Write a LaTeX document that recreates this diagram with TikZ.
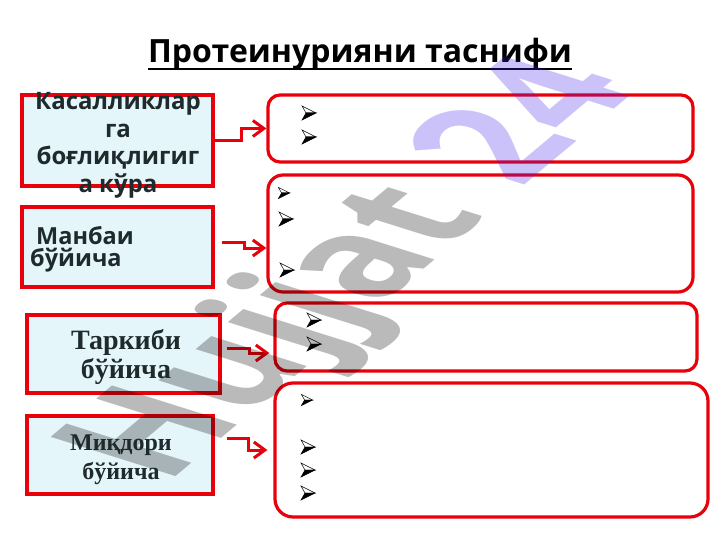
\documentclass[tikz,border=0pt]{standalone}
\usepackage{fontspec}
\setmainfont{Open Sans}
\newfontfamily\serifb{Liberation Serif}
\usetikzlibrary{arrows.meta}
\definecolor{bred}{RGB}{232,0,10}
\definecolor{lcyan}{RGB}{229,246,250}
\definecolor{dtext}{RGB}{30,42,44}
\definecolor{wmv}{RGB}{70,33,237}
\tikzset{
  lbox/.style={draw=bred,line width=3.5pt,fill=lcyan,inner sep=0pt},
  rbox/.style={draw=bred,line width=3.2pt,fill=white,inner sep=0pt},
  conn/.style={draw=bred,line width=3pt,-{Straight Barb[length=11pt,width=16pt]}},
  ltext/.style={text=dtext,inner sep=0pt,font=\bfseries},
  bul/.pic={
    \filldraw[fill=white,draw=black,line width=0.5pt] (-7,-7) -- (7,0) -- (-3,0) -- cycle;
    \filldraw[fill=black,draw=black,line width=0.5pt] (-3,0) -- (7,0) -- (-7,7) -- cycle;
  }
}
\begin{document}
\begin{tikzpicture}[x=1pt,y=-1pt]
\useasboundingbox[fill=white] (0,0) rectangle (720,540);

% title
\node[inner sep=0pt,anchor=base,font=\fontsize{32}{36}\selectfont\bfseries] (T) at (360,63) {Протеинурияни таснифи};
\draw[line width=2pt] ([yshift=-6pt]T.base west) -- ([yshift=-6pt]T.base east);

% left boxes
\node[lbox,minimum width=191pt,minimum height=91pt] (L1) at (117.5,140.5) {};
\node[lbox,minimum width=191pt,minimum height=80pt] (L2) at (117.5,247) {};
\node[lbox,minimum width=193pt,minimum height=78pt] (L3) at (123.5,354) {};
\node[lbox,minimum width=186pt,minimum height=78pt] (L4) at (120,455) {};

% right boxes
\node[rbox,rounded corners=12pt,minimum width=425pt,minimum height=67pt] (R1) at (480.5,128.5) {};
\node[rbox,rounded corners=15pt,minimum width=425pt,minimum height=117pt] (R2) at (480.5,233.5) {};
\node[rbox,rounded corners=12pt,minimum width=422pt,minimum height=68pt] (R3) at (486,337) {};
\node[rbox,rounded corners=18pt,minimum width=433pt,minimum height=134pt] (R4) at (491.5,450) {};

% connectors
\draw[conn] (L1.east) -- ++(27,0) |- (R1.west);
\draw[conn] ([yshift=5pt,xshift=7pt]L2.east) -- ++(23,0) |- ([yshift=-14.5pt]R2.west);
\draw[conn] ([yshift=6pt,xshift=5pt]L3.east) -- ++(23,0) |- ([yshift=-16pt,xshift=-4pt]R3.west);
\draw[conn] ([yshift=17pt,xshift=12pt]L4.east) -- ++(22,0) |- ([xshift=-6pt]R4.west);

% bullets
\pic at (309,113) {bul};
\pic at (309,137) {bul};
\pic[scale=0.8] at (284,193) {bul};
\pic at (286,219) {bul};
\pic at (287,270) {bul};
\pic at (314,320) {bul};
\pic at (314,344) {bul};
\pic[scale=0.8] at (307,400) {bul};
\pic at (308,447) {bul};
\pic at (308,470) {bul};
\pic at (308,493) {bul};

% watermark
\begin{scope}[shift={(166,485)}]
\node[transform shape,cm={1.05,0.88,-1.75,0.55,(0,0)},anchor=base west,inner sep=0pt,
      text opacity=0.27,font=\fontsize{100}{100}\selectfont\bfseries] (WM) at (0,0)
      {\color{black}Hujjat\hspace{0.3em}{\color{wmv}24}};
\end{scope}

% left texts
\node[ltext,anchor=north,align=center,font=\fontsize{24}{27.7}\selectfont\bfseries] (t1) at (118,92)
  {Касалликлар\\га\\боғлиқлигиг\\а кўра};
\node[ltext,anchor=north west,align=left,font=\fontsize{23.5}{22}\selectfont\bfseries] (t2) at (30,226)
  {\hspace*{6pt}Манбаи\\бўйича};
\node[ltext,anchor=north,align=center,font=\fontsize{28}{29}\selectfont\serifb\bfseries] (t3) at (126,329)
  {Таркиби\\бўйича};
\node[ltext,anchor=north,align=center,font=\fontsize{24}{29}\selectfont\serifb\bfseries] (t4) at (121,435)
  {Миқдори\\бўйича};
\end{tikzpicture}
\end{document}
